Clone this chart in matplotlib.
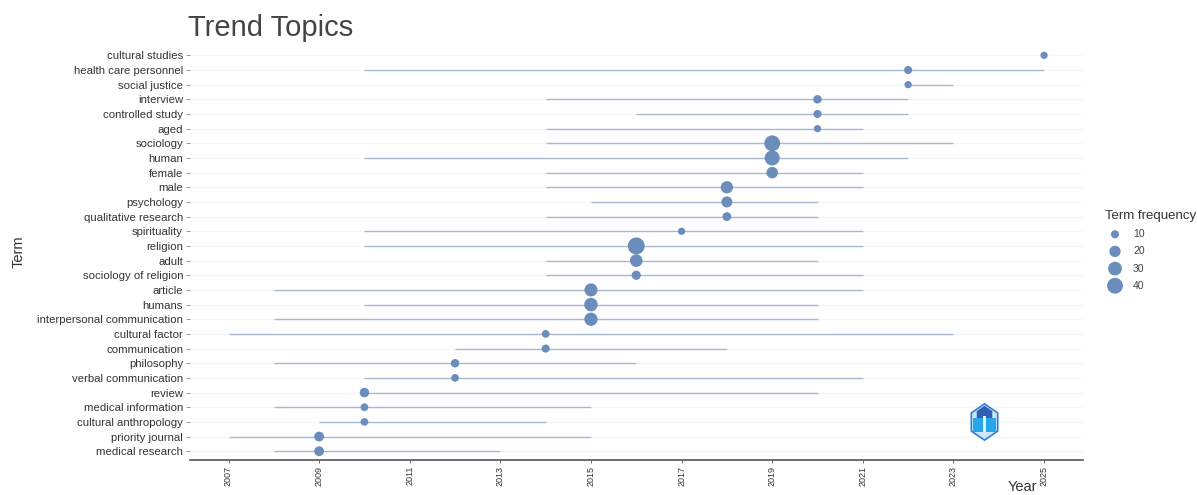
import matplotlib
matplotlib.use('Agg')
import matplotlib.pyplot as plt
from matplotlib.patches import RegularPolygon, Rectangle

plt.rcParams['font.family'] = ['Liberation Sans', 'DejaVu Sans']

# top to bottom, as in the picture
terms = ['cultural studies', 'health care personnel', 'social justice', 'interview',
         'controlled study', 'aged', 'sociology', 'human', 'female', 'male', 'psychology',
         'qualitative research', 'spirituality', 'religion', 'adult', 'sociology of religion',
         'article', 'humans', 'interpersonal communication', 'cultural factor', 'communication',
         'philosophy', 'verbal communication', 'review', 'medical information',
         'cultural anthropology', 'priority journal', 'medical research']
year_start = [2025, 2010, 2022, 2014, 2016, 2014, 2014, 2010, 2014, 2014, 2015, 2014, 2010, 2010,
              2014, 2014, 2008, 2010, 2008, 2007, 2012, 2008, 2010, 2010, 2008, 2009, 2007, 2008]
year_median = [2025, 2022, 2022, 2020, 2020, 2020, 2019, 2019, 2019, 2018, 2018, 2018, 2017, 2016,
               2016, 2016, 2015, 2015, 2015, 2014, 2014, 2012, 2012, 2010, 2010, 2010, 2009, 2009]
year_end = [2025, 2025, 2023, 2022, 2022, 2021, 2023, 2022, 2021, 2021, 2020, 2020, 2021, 2021,
            2020, 2021, 2021, 2020, 2020, 2023, 2018, 2016, 2021, 2020, 2015, 2014, 2015, 2013]
freq = [8, 10, 8, 11, 10, 8, 40, 36, 21, 24, 19, 12, 8, 46, 25, 13, 27, 29, 28, 9, 10, 11, 9, 14,
        9, 9, 15, 15]
x_ticks = [2007, 2009, 2011, 2013, 2015, 2017, 2019, 2021, 2023, 2025]
legend_sizes = [10, 20, 30, 40]

color = '#6a8dbb'
line_color = '#a9b8cc'
ink = '#333333'


def msize(f):
    return 2 + 3.2 * f


fig = plt.figure(figsize=(11.97, 4.95), dpi=100)
ax = fig.add_axes([190 / 1197, 1 - 460 / 495, 893 / 1197, 412 / 495])

rows = list(range(len(terms) - 1, -1, -1))
ax.hlines(rows, 2006.15, 2025.86, color='#f6f6f6', lw=0.8, zorder=1)
ax.hlines(rows, year_start, year_end, color=line_color, lw=1.0, zorder=2)
ax.scatter(year_median, rows, s=[msize(f) for f in freq], color=color, edgecolor='none', zorder=3)

ax.set_xlim(2006.15, 2025.86)
ax.set_ylim(-0.6, len(terms) - 0.5)
ax.set_yticks(rows)
ax.set_yticklabels(terms, fontsize=8.2, color='#333333')
ax.set_xticks(x_ticks)
ax.set_xticklabels(x_ticks, fontsize=6.5, rotation=90, color='#333333')
ax.tick_params(axis='y', length=3, width=0.6, color='#888888', pad=2)
ax.tick_params(axis='x', length=2, width=0.6, color='#555555', pad=2)
for side in ['top', 'right', 'left']:
    ax.spines[side].set_visible(False)
ax.spines['bottom'].set_color('#555555')
ax.spines['bottom'].set_linewidth(1.2)

fig.text(188 / 1197, 1 - 28 / 495, 'Trend Topics', fontsize=21, color='#444444', va='center')
fig.text(19 / 1197, 1 - 252 / 495, 'Term', fontsize=10.5, rotation=90, color=ink, va='center', ha='center')
fig.text(1022 / 1197, 1 - 487 / 495, 'Year', fontsize=10.5, color=ink, va='center', ha='center')

# legend, built by hand to keep the tight spacing
fig.text(1105 / 1197, 1 - 216 / 495, 'Term frequency', fontsize=9.5, color=ink, va='center')
lax = fig.add_axes([1100 / 1197, 1 - 296 / 495, 40 / 1197, 72 / 495])
lax.set_xlim(0, 40)
lax.set_ylim(len(legend_sizes) - 0.4, -0.6)
lax.axis('off')
for i, s in enumerate(legend_sizes):
    lax.scatter(15, i, s=msize(s), color=color, edgecolor='none', clip_on=False)
    lax.text(33, i, str(s), fontsize=7.5, color='#444444', va='center')

# logo badge in the lower right
logo = fig.add_axes([970 / 1197, 1 - 441 / 495, 29 / 1197, 38 / 495])
logo.set_xlim(-1, 1)
logo.set_ylim(-1.1, 1.1)
logo.axis('off')
logo.add_patch(RegularPolygon((0, 0), 6, radius=1.05, facecolor='#cfe6f8', edgecolor='#2f7fd6', lw=1.2))
logo.add_patch(RegularPolygon((0, 0.32), 6, radius=0.62, facecolor='#2f5fb0', edgecolor='none'))
logo.add_patch(Rectangle((-0.82, -0.58), 1.64, 0.82, facecolor='#25a7ea', edgecolor='none'))
logo.add_patch(Rectangle((-0.12, -0.58), 0.24, 0.95, facecolor='#dff3fc', edgecolor='none'))

fig.savefig('out.png', dpi=100)
